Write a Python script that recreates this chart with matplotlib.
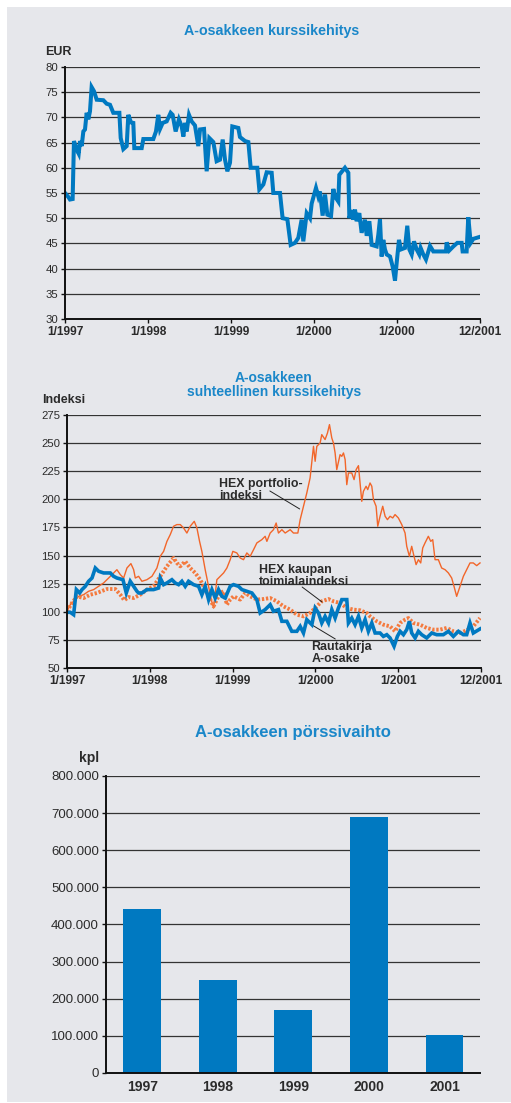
import matplotlib
matplotlib.use("Agg")
from matplotlib import pyplot as plt
from matplotlib.patches import Rectangle

plt.rcParams['font.family'] = ['Liberation Sans', 'DejaVu Sans']

# kurssikehitys, EUR (aika vuosina 1/1997 alkaen)
price_t = [0.000, 0.040, 0.060, 0.092, 0.108, 0.141, 0.165, 0.181, 0.201, 0.221, 0.241, 0.261, 0.281, 0.301,
           0.321, 0.349, 0.382, 0.462, 0.502, 0.542, 0.582, 0.655, 0.671, 0.703, 0.743, 0.763, 0.795, 0.823,
           0.835, 0.924, 0.944, 1.064, 1.096, 1.124, 1.145, 1.177, 1.225, 1.273, 1.297, 1.333, 1.373, 1.406,
           1.426, 1.446, 1.466, 1.494, 1.526, 1.566, 1.606, 1.627, 1.675, 1.707, 1.739, 1.787, 1.827, 1.867,
           1.900, 1.928, 1.956, 1.988, 2.016, 2.088, 2.108, 2.169, 2.209, 2.237, 2.317, 2.341, 2.390, 2.430,
           2.490, 2.510, 2.590, 2.622, 2.679, 2.719, 2.771, 2.811, 2.851, 2.871, 2.912, 2.952, 2.972, 3.024,
           3.052, 3.072, 3.104, 3.133, 3.161, 3.205, 3.233, 3.253, 3.293, 3.305, 3.373, 3.414, 3.426, 3.454,
           3.474, 3.494, 3.514, 3.546, 3.574, 3.614, 3.635, 3.667, 3.695, 3.755, 3.775, 3.795, 3.815, 3.835,
           3.855, 3.876, 3.916, 3.948, 3.976, 3.996, 4.024, 4.048, 4.096, 4.124, 4.149, 4.177, 4.205, 4.237,
           4.269, 4.285, 4.317, 4.349, 4.398, 4.438, 4.518, 4.590, 4.598, 4.631, 4.679, 4.727, 4.779, 4.791,
           4.839, 4.859, 4.888, 4.920, 5.000]
price_eur = [55.0, 54.2, 53.7, 53.8, 65.3, 63.6, 62.8, 65.3, 64.3, 67.2, 67.6, 70.9, 69.6, 71.2,
             76.0, 75.2, 73.5, 73.4, 72.7, 72.5, 70.9, 70.9, 65.9, 63.7, 64.3, 70.5, 69.0, 68.9,
             63.9, 63.9, 65.7, 65.7, 67.2, 70.5, 67.7, 68.9, 69.2, 70.9, 70.5, 67.2, 69.6, 68.2,
             66.2, 68.9, 67.2, 70.5, 69.2, 68.4, 64.3, 67.6, 67.7, 59.3, 65.9, 65.1, 61.3, 61.6,
             65.6, 61.6, 59.3, 61.0, 68.2, 67.9, 66.1, 65.3, 65.1, 60.0, 60.0, 55.7, 56.7, 59.1,
             59.0, 55.0, 55.0, 50.0, 49.8, 44.7, 45.1, 46.1, 49.7, 45.4, 51.0, 50.0, 52.9, 56.0,
             54.3, 55.3, 50.5, 54.7, 50.7, 50.4, 55.8, 54.3, 53.3, 58.6, 60.0, 59.0, 50.0, 51.6,
             49.7, 51.7, 49.4, 51.0, 47.1, 49.7, 46.5, 49.4, 44.7, 44.4, 46.7, 49.8, 42.4, 45.7,
             43.8, 42.8, 42.4, 40.4, 37.6, 41.1, 45.7, 43.8, 44.1, 48.5, 43.8, 42.8, 45.4, 43.8,
             42.8, 44.1, 42.8, 41.8, 44.5, 43.4, 43.4, 43.4, 45.2, 43.6, 44.4, 45.1, 45.1, 43.4,
             43.4, 50.2, 45.1, 45.9, 46.3]

# suhteellinen kurssikehitys, indeksi
hex_t = [0.000, 0.040, 0.080, 0.141, 0.201, 0.261, 0.322, 0.382, 0.442, 0.503, 0.563, 0.603, 0.644, 0.684,
         0.724, 0.772, 0.805, 0.825, 0.865, 0.905, 0.965, 1.026, 1.086, 1.126, 1.167, 1.207, 1.247, 1.287,
         1.327, 1.368, 1.408, 1.448, 1.488, 1.537, 1.569, 1.601, 1.629, 1.669, 1.710, 1.742, 1.770, 1.790,
         1.810, 1.850, 1.891, 1.931, 1.971, 2.003, 2.051, 2.092, 2.132, 2.172, 2.212, 2.253, 2.293, 2.353,
         2.393, 2.414, 2.454, 2.494, 2.526, 2.554, 2.595, 2.635, 2.695, 2.735, 2.788, 2.816, 2.856, 2.896,
         2.936, 2.977, 2.997, 3.017, 3.057, 3.077, 3.117, 3.146, 3.170, 3.198, 3.218, 3.238, 3.258, 3.298,
         3.319, 3.339, 3.359, 3.379, 3.399, 3.439, 3.467, 3.492, 3.520, 3.540, 3.560, 3.580, 3.612, 3.632,
         3.660, 3.681, 3.701, 3.733, 3.753, 3.781, 3.813, 3.842, 3.870, 3.902, 3.934, 3.962, 4.002, 4.043,
         4.083, 4.103, 4.135, 4.163, 4.191, 4.216, 4.244, 4.272, 4.296, 4.324, 4.364, 4.393, 4.417, 4.445,
         4.485, 4.525, 4.566, 4.606, 4.646, 4.674, 4.706, 4.747, 4.787, 4.827, 4.867, 4.907, 4.948, 4.988]
hex_index = [100.4, 106.3, 109.3, 113.7, 115.2, 118.2, 119.7, 122.6, 125.6, 130.0, 134.5, 137.4, 133.0, 130.0,
             138.9, 142.8, 137.4, 130.0, 131.5, 127.1, 128.5, 131.5, 138.9, 149.3, 153.7, 162.6, 168.6, 176.0,
             177.5, 177.5, 174.5, 170.0, 176.0, 180.4, 174.5, 162.6, 153.7, 137.4, 122.6, 110.8, 103.3, 115.2,
             128.5, 131.5, 134.5, 138.9, 146.3, 153.7, 152.3, 147.8, 146.3, 152.3, 149.3, 155.2, 161.2, 164.1,
             167.1, 162.6, 170.0, 173.0, 178.9, 170.0, 173.0, 170.0, 173.0, 170.0, 170.0, 181.9, 193.8, 205.6,
             219.0, 247.1, 233.8, 247.1, 250.1, 257.5, 253.1, 259.0, 266.4, 254.5, 250.1, 241.2, 226.4, 239.7,
             238.2, 241.2, 235.3, 213.0, 223.4, 223.4, 217.5, 226.4, 229.9, 214.5, 198.2, 207.1, 211.6, 208.6,
             214.5, 211.6, 199.7, 193.8, 176.0, 184.9, 193.8, 184.9, 181.9, 184.9, 183.4, 186.4, 183.4, 177.5,
             170.0, 158.2, 149.3, 158.2, 149.3, 141.9, 146.3, 143.4, 156.7, 161.2, 167.1, 162.6, 164.1, 146.3,
             146.3, 138.9, 137.4, 134.5, 130.0, 122.6, 113.7, 122.6, 131.5, 137.4, 143.4, 143.4, 141.0, 143.4]

trade_t = [0.000, 0.060, 0.121, 0.201, 0.282, 0.362, 0.483, 0.583, 0.644, 0.692, 0.744, 0.805, 0.885, 0.965,
           1.046, 1.126, 1.207, 1.287, 1.327, 1.368, 1.428, 1.488, 1.549, 1.609, 1.669, 1.730, 1.770, 1.810,
           1.850, 1.891, 1.931, 1.971, 2.011, 2.092, 2.152, 2.212, 2.293, 2.373, 2.454, 2.534, 2.615, 2.695,
           2.776, 2.856, 2.936, 3.017, 3.077, 3.158, 3.218, 3.298, 3.379, 3.459, 3.540, 3.620, 3.660, 3.741,
           3.821, 3.902, 3.962, 4.023, 4.083, 4.123, 4.183, 4.264, 4.344, 4.425, 4.505, 4.586, 4.666, 4.747,
           4.827, 4.907, 4.988]
trade_index = [100.4, 107.8, 113.7, 112.2, 115.2, 116.7, 120.2, 120.2, 115.2, 110.2, 113.1, 112.2, 115.2, 119.7,
               122.6, 131.5, 140.4, 147.8, 143.4, 140.4, 144.8, 138.9, 134.5, 128.5, 119.7, 110.8, 104.8, 110.8,
               116.7, 118.2, 106.3, 110.8, 113.7, 110.8, 116.7, 113.7, 110.8, 111.3, 112.2, 109.3, 104.8, 101.9,
               97.4, 95.9, 98.9, 104.8, 109.3, 111.3, 109.3, 107.8, 103.3, 101.9, 101.3, 98.9, 95.9, 91.5,
               88.5, 87.0, 82.6, 90.0, 93.0, 94.4, 90.0, 88.5, 85.6, 84.1, 84.1, 85.6, 82.6, 81.1,
               83.5, 87.0, 94.4]

rk_t = [0.000, 0.040, 0.080, 0.113, 0.153, 0.181, 0.221, 0.261, 0.302, 0.342, 0.382, 0.442, 0.523, 0.563,
        0.603, 0.676, 0.716, 0.764, 0.805, 0.845, 0.865, 0.905, 0.965, 1.046, 1.106, 1.126, 1.167, 1.207,
        1.267, 1.307, 1.348, 1.388, 1.428, 1.468, 1.529, 1.589, 1.629, 1.669, 1.710, 1.750, 1.790, 1.830,
        1.871, 1.911, 1.971, 2.011, 2.072, 2.112, 2.172, 2.233, 2.293, 2.333, 2.393, 2.454, 2.494, 2.554,
        2.595, 2.655, 2.715, 2.776, 2.816, 2.856, 2.896, 2.957, 2.997, 3.037, 3.077, 3.117, 3.158, 3.198,
        3.238, 3.278, 3.319, 3.379, 3.399, 3.439, 3.479, 3.520, 3.560, 3.600, 3.640, 3.681, 3.721, 3.781,
        3.821, 3.862, 3.902, 3.950, 3.990, 4.023, 4.063, 4.103, 4.135, 4.163, 4.204, 4.244, 4.284, 4.344,
        4.405, 4.465, 4.545, 4.606, 4.666, 4.727, 4.787, 4.827, 4.867, 4.907, 4.988]
rk_index = [99.5, 99.5, 97.4, 119.7, 116.7, 119.7, 122.6, 127.1, 130.0, 138.9, 136.0, 134.5, 134.5, 131.5,
            130.0, 128.5, 116.7, 127.1, 122.6, 118.2, 116.7, 116.7, 119.7, 119.7, 121.1, 130.0, 124.1, 125.6,
            128.5, 125.6, 124.1, 127.1, 122.6, 127.1, 124.1, 122.6, 115.2, 122.6, 110.8, 119.7, 112.2, 119.7,
            113.7, 112.2, 122.6, 124.1, 122.6, 119.7, 118.2, 116.7, 110.8, 98.9, 101.9, 106.3, 100.4, 101.9,
            91.5, 91.5, 82.6, 82.6, 87.0, 81.1, 93.0, 88.5, 103.3, 98.9, 90.0, 95.9, 90.0, 101.9,
            94.4, 103.3, 110.8, 110.8, 90.0, 94.4, 88.5, 95.9, 85.6, 93.0, 82.6, 90.0, 81.1, 81.1,
            78.1, 79.6, 76.7, 69.3, 78.1, 82.6, 79.6, 84.1, 91.5, 81.1, 76.7, 82.6, 79.6, 76.7,
            81.1, 79.6, 79.6, 82.6, 78.1, 82.6, 79.6, 79.6, 90.0, 81.1, 84.7]

# pörssivaihto, kpl
years = ["1997", "1998", "1999", "2000", "2001"]
volume = [441000, 250000, 169000, 689000, 101000]

top_ticks = ["1/1997", "1/1998", "1/1999", "1/2000", "1/2000", "12/2001"]
mid_ticks = ["1/1997", "1/1998", "1/1999", "1/2000", "1/2001", "12/2001"]

BLUE = "#0079c1"
TITLE_BLUE = "#1a87c9"
ORANGE = "#f2662a"
ORANGE_DOT = "#f47a3e"
BG = "#e6e7eb"
GRID = "#333333"
TXT = "#2b2b2b"

fig = plt.figure(figsize=(5.11, 11.03), dpi=100)
fig.patches.append(Rectangle((7 / 511, 0.001), 1, 0.9927, transform=fig.transFigure,
                             facecolor=BG, edgecolor="none", zorder=-10))


def style_axes(ax, size=8):
    ax.set_facecolor("none")
    for s in ["top", "right"]:
        ax.spines[s].set_visible(False)
    for s in ["left", "bottom"]:
        ax.spines[s].set_color("#111111")
        ax.spines[s].set_linewidth(1.4)
        ax.spines[s].set_zorder(5)
    ax.yaxis.grid(True, color=GRID, linewidth=0.9)
    ax.set_axisbelow(True)
    ax.tick_params(axis="y", length=3, width=1, color="#111111", labelsize=size, labelcolor=TXT, pad=2)
    ax.tick_params(axis="x", length=3, width=1, color="#111111", labelsize=size, labelcolor=TXT, pad=2)


def leader(ax, text, xy_text, p0, p1):
    ax.text(xy_text[0], xy_text[1], text, fontsize=8.9, fontweight="bold", color=TXT,
            ha="left", va="center", linespacing=1.0, zorder=6)
    ax.annotate("", xy=p1, xytext=p0,
                arrowprops=dict(arrowstyle="-", color="#222222", linewidth=0.7, shrinkA=0, shrinkB=0))


# --- kurssikehitys ---
ax1 = fig.add_axes([0.1272, 0.7108, 0.8121, 0.2285])
style_axes(ax1, 8.2)
ax1.plot(price_t, price_eur, color=BLUE, linewidth=2.9, solid_joinstyle="miter", zorder=3)
ax1.set_xlim(0, 5)
ax1.set_ylim(30, 80)
ax1.set_yticks(range(30, 81, 5))
ax1.set_xticks(range(6))
ax1.set_xticklabels(top_ticks, fontweight="bold", fontsize=8.6)
fig.text(272 / 511, 1 - 31 / 1103, "A-osakkeen kurssikehitys", color=TITLE_BLUE,
         fontsize=10.3, fontweight="bold", ha="center", va="center")
fig.text(45 / 511, 1 - 52 / 1103, "EUR", color=TXT, fontsize=9, fontweight="bold", ha="left", va="center")

# --- suhteellinen kurssikehitys ---
ax2 = fig.add_axes([0.1311, 0.3944, 0.8102, 0.2294])
style_axes(ax2, 8.2)
ax2.plot(hex_t, hex_index, color=ORANGE, linewidth=1.0, zorder=3)
ax2.plot(trade_t, trade_index, color=ORANGE_DOT, linewidth=2.8, linestyle=(0, (0.6, 0.45)), zorder=3)
ax2.plot(rk_t, rk_index, color=BLUE, linewidth=2.6, solid_joinstyle="miter", zorder=4)
ax2.set_xlim(0, 5)
ax2.set_ylim(50, 275)
ax2.set_yticks(range(50, 276, 25))
ax2.set_xticks(range(6))
ax2.set_xticklabels(mid_ticks, fontweight="bold", fontsize=8.6)
fig.text(274 / 511, 1 - 378 / 1103, "A-osakkeen", color=TITLE_BLUE,
         fontsize=10, fontweight="bold", ha="center", va="center")
fig.text(274 / 511, 1 - 392 / 1103, "suhteellinen kurssikehitys", color=TITLE_BLUE,
         fontsize=10, fontweight="bold", ha="center", va="center")
fig.text(42 / 511, 1 - 400 / 1103, "Indeksi", color=TXT, fontsize=9, fontweight="bold", ha="left", va="center")

leader(ax2, "HEX portfolio-\nindeksi", (1.836, 208.3), (2.45, 207.4), (2.81, 191.4))
leader(ax2, "HEX kaupan\ntoimialaindeksi", (2.32, 131.4), (2.84, 122.0), (3.08, 108.7))
leader(ax2, "Rautakirja\nA-osake", (2.95, 62.9), (3.24, 75.8), (2.96, 88.2))

# --- pörssivaihto ---
ax3 = fig.add_axes([0.2074, 0.0272, 0.7319, 0.2693])
style_axes(ax3, 9.5)
ax3.bar(range(len(years)), volume, width=0.5, color=BLUE, zorder=3)
ax3.set_xlim(-0.48, 4.47)
ax3.set_ylim(0, 800000)
ax3.set_yticks(range(0, 800001, 100000))
ax3.set_yticklabels(["0" if v == 0 else f"{v // 1000}.000" for v in range(0, 800001, 100000)])
ax3.set_xticks(range(len(years)))
ax3.set_xticklabels(years, fontweight="bold", fontsize=10)
ax3.tick_params(axis="x", length=0, pad=5)
fig.text(293 / 511, 1 - 732 / 1103, "A-osakkeen pörssivaihto", color=TITLE_BLUE,
         fontsize=12, fontweight="bold", ha="center", va="center")
fig.text(99 / 511, 1 - 758 / 1103, "kpl", color=TXT, fontsize=10, fontweight="bold", ha="right", va="center")

fig.savefig("out.png", dpi=100, facecolor="white")
